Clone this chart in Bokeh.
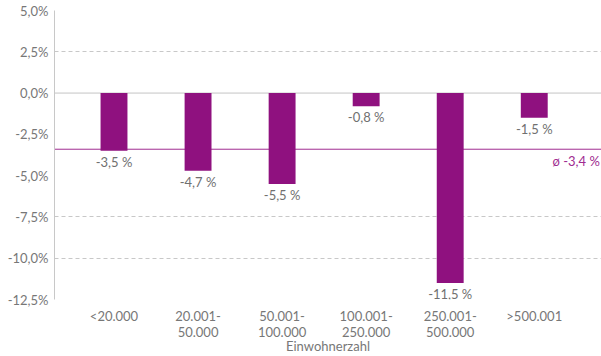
from bokeh.plotting import figure
from bokeh.models import FixedTicker, Range1d, Span, ColumnDataSource
from bokeh.embed import file_html
from bokeh.resources import INLINE
from bokeh.core.properties import value

categories = ["<20.000", "20.001-\n50.000", "50.001-\n100.000", "100.001-\n250.000",
              "250.001-\n500.000", ">500.001"]
values = [-3.5, -4.7, -5.5, -0.8, -11.5, -1.5]
value_labels = ["-3,5 %", "-4,7 %", "-5,5 %", "-0,8 %", "-11,5 %", "-1,5 %"]
average = -3.4
average_label = "ø -3,4 %"
y_ticks = [5, 2.5, 0, -2.5, -5, -7.5, -10, -12.5]
y_tick_labels = ["5,0%", "2,5%", "0,0%", "-2,5%", "-5,0%", "-7,5%", "-10,0%", "-12,5%"]
dashed_grid = [5, 2.5, -7.5, -10, -12.5]
x_axis_title = "Einwohnerzahl"

FONT = "Lato"
FS = "13px"
PURPLE = "#8f117f"
GREY = "#777777"

idx = list(range(len(categories)))
src = ColumnDataSource(dict(x=idx, v=values, lab=value_labels, zero=[0] * len(idx)))

p = figure(width=601, height=356, output_backend="svg", toolbar_location=None,
           x_range=Range1d(-0.708, 5.80), y_range=Range1d(-12.5, 5.0),
           min_border_left=54, min_border_right=0, min_border_top=10, min_border_bottom=40)
p.outline_line_color = None
p.background_fill_color = "white"
p.border_fill_color = "white"

# grid
p.xgrid.grid_line_color = None
p.ygrid.ticker = FixedTicker(ticks=dashed_grid)
p.ygrid.grid_line_color = "#c8c8c8"
p.ygrid.grid_line_dash = "4 3"

p.add_layout(Span(location=0, dimension="width", line_color="#c4c4c4", line_width=1, level="underlay"))
p.add_layout(Span(location=average, dimension="width", line_color="#a02b90", line_width=1, level="underlay"))

p.vbar(x="x", top="zero", bottom="v", width=0.32, source=src, fill_color=PURPLE, line_color=None)

p.text(x="x", y="v", text="lab", source=src, text_font=value(FONT), text_font_size=FS,
       text_color="#707070", text_align="center", text_baseline="top", y_offset=3)
p.text(x=[5.78], y=[average], text=[average_label], text_font=value(FONT), text_font_size=FS,
       text_color="#a02b90", text_align="right", text_baseline="top", y_offset=4)

# y axis
p.yaxis.ticker = FixedTicker(ticks=y_ticks)
p.yaxis.major_label_overrides = {t: l for t, l in zip(y_ticks, y_tick_labels)}
p.yaxis.axis_line_color = "#c8c8c8"
p.yaxis.major_tick_line_color = None
p.yaxis.major_tick_in = 0
p.yaxis.major_tick_out = 0
p.yaxis.minor_tick_line_color = None
p.yaxis.minor_tick_out = 0
p.yaxis.major_label_text_font = FONT
p.yaxis.major_label_text_font_size = FS
p.yaxis.major_label_text_color = GREY
p.yaxis.major_label_standoff = 6

# x axis
p.xaxis.ticker = FixedTicker(ticks=idx)
p.xaxis.major_label_overrides = {i: c for i, c in zip(idx, categories)}
p.xaxis.axis_line_color = None
p.xaxis.major_tick_line_color = None
p.xaxis.major_tick_in = 0
p.xaxis.major_tick_out = 0
p.xaxis.minor_tick_line_color = None
p.xaxis.minor_tick_out = 0
p.xaxis.major_label_text_font = FONT
p.xaxis.major_label_text_font_size = FS
p.xaxis.major_label_text_line_height = 1.0
p.xaxis.major_label_text_color = GREY
p.xaxis.major_label_standoff = 8
p.xaxis.axis_label = x_axis_title
p.xaxis.axis_label_text_font = FONT
p.xaxis.axis_label_text_font_size = FS
p.xaxis.axis_label_text_font_style = "normal"
p.xaxis.axis_label_text_color = GREY
p.xaxis.axis_label_standoff = -5

open("out.html", "w").write(file_html(p, INLINE))
